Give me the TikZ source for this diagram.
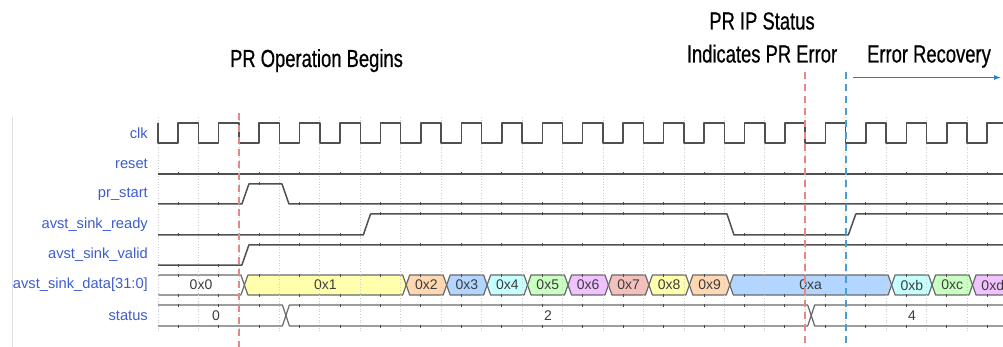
\documentclass[tikz,border=0pt]{standalone}
\usepackage{fontspec}
\setmainfont{Liberation Sans}
\newfontfamily\titlefont[FakeStretch=0.745,FakeBold=0.6]{Liberation Sans}
\usetikzlibrary{arrows.meta}
\definecolor{lblblue}{RGB}{62,92,205}
\definecolor{wave}{RGB}{80,80,80}
\definecolor{busline}{RGB}{105,105,105}
\definecolor{gridc}{RGB}{205,205,205}
\definecolor{redmark}{RGB}{228,135,135}
\definecolor{bluemark}{RGB}{75,155,215}
\definecolor{arrowblue}{RGB}{45,125,205}
\definecolor{valtext}{RGB}{60,60,60}
\definecolor{cyel}{RGB}{255,255,172}
\definecolor{corg}{RGB}{255,216,178}
\definecolor{cblu}{RGB}{178,214,255}
\definecolor{ccyn}{RGB}{198,255,255}
\definecolor{cgrn}{RGB}{202,255,194}
\definecolor{cpur}{RGB}{240,194,255}
\definecolor{cred}{RGB}{244,192,188}
\newcommand\dseg[4]{%
  \fill[#3] ({#1},285) -- ({#1+3.5},275) -- ({#2-3.5},275) -- ({#2},285) -- ({#2-3.5},295) -- ({#1+3.5},295) -- cycle;
  \draw[bus] ({#1},285) -- ({#1+3.5},275) -- ({#2-3.5},275) -- ({#2},285) -- ({#2-3.5},295) -- ({#1+3.5},295) -- cycle;
  \node[val] (#4) at ({(#1+#2)/2},285) {#4};}
\tikzset{
  lbl/.style={anchor=east,inner sep=0pt,text=lblblue,font=\fontsize{14.7}{16}\selectfont},
  val/.style={inner sep=0pt,text=valtext,font=\fontsize{14}{16}\selectfont},
  ttl/.style={anchor=base,inner sep=0pt,font=\titlefont\fontsize{24.7}{28}\selectfont},
  wave/.style={draw=wave,line width=1.5pt,line join=round},
  bus/.style={draw=busline,line width=1.2pt,line join=round},
  gridl/.style={draw=gridc,line width=0.7pt,dotted},
  tickm/.style={draw=black!70,line width=1pt},
  rdash/.style={draw=redmark,line width=1.3pt,dash pattern=on 7pt off 5pt},
  bdash/.style={draw=bluemark,line width=1.3pt,dash pattern=on 7pt off 5pt},
}
\begin{document}
\begin{tikzpicture}[x=1pt,y=-1pt]
\useasboundingbox (0,0) rectangle (1003,347);
\clip (0,0) rectangle (1003,347);
% left border line
\draw[draw=black!12,line width=0.8pt] (12,117) -- (12,347);
% data bus fills and outlines
\fill[white] (158,275) -- (240.9,275) -- (244.4,285) -- (240.9,295) -- (158,295) -- cycle;
\draw[bus] (158,275) -- (240.9,275) -- (244.4,285) -- (240.9,295) -- (158,295);
\node[val] (0x0) at (201,285) {0x0};
\dseg{244.4}{406.2}{cyel}{0x1}
\dseg{406.2}{446.65}{corg}{0x2}
\dseg{446.65}{487.1}{cblu}{0x3}
\dseg{487.1}{527.55}{ccyn}{0x4}
\dseg{527.55}{568}{cgrn}{0x5}
\dseg{568}{608.45}{cpur}{0x6}
\dseg{608.45}{648.9}{cred}{0x7}
\dseg{648.9}{689.35}{cyel}{0x8}
\dseg{689.35}{729.8}{corg}{0x9}
\dseg{729.8}{891.6}{cblu}{0xa}
\dseg{891.6}{932.05}{ccyn}{0xb}
\dseg{932.05}{972.5}{cgrn}{0xc}
\dseg{972.5}{1013}{cpur}{0xd}
% grid
\foreach \k in {0,...,21}{\draw[gridl] ({158+40.45*\k},117) -- ({158+40.45*\k},331);}
% status bus
\draw[bus] (158,305) -- (282.4,305) -- (285.9,315.5) -- (282.4,326) -- (158,326);
\draw[bus] (285.9,315.5) -- (289.4,305) -- (807.7,305) -- (811.2,315.5) -- (807.7,326) -- (289.4,326) -- cycle;
\draw[bus] (811.2,315.5) -- (814.7,305) -- (1010,305);
\draw[bus] (811.2,315.5) -- (814.7,326) -- (1010,326);
\node[val] (s0) at (216,315.5) {0};
\node[val] (s2) at (548,315.5) {2};
\node[val] (s4) at (912,315.5) {4};
% clock
\draw[wave] (158,123) -- (158,143)
  \foreach \k in {0,...,20}{ -- ({178.2+40.45*\k},143) -- ({178.2+40.45*\k},123) -- ({198.45+40.45*\k},123) -- ({198.45+40.45*\k},143)};
% reset
\draw[wave] (158,174) -- (1003,174);
% pr_start
\draw[wave] (158,204) -- (241.9,204) -- (248.9,184) -- (282,184) -- (289,204) -- (1003,204);
% avst_sink_ready
\draw[wave] (158,235) -- (363.3,235) -- (370.5,214) -- (727,214) -- (734,235) -- (848.3,235) -- (855.8,214) -- (1003,214);
% avst_sink_valid
\draw[wave] (158,265) -- (241.9,265) -- (248.9,245) -- (1003,245);
% tick marks at rising edges
\foreach \k in {0,...,20}{
  \pgfmathsetmacro\rx{178.2+40.45*\k}
  \draw[tickm] (\rx,172.5) -- (\rx,175.5);
  \draw[tickm] (\rx,273.5) -- (\rx,276.5);
  \draw[tickm] (\rx,293.5) -- (\rx,296.5);
  \draw[tickm] (\rx,303.5) -- (\rx,306.5);
  \draw[tickm] (\rx,324.5) -- (\rx,327.5);
}
\foreach \k in {0,1,3,4,...,20}{\pgfmathsetmacro\rx{178.2+40.45*\k}\draw[tickm] (\rx,202.5) -- (\rx,205.5);}
\foreach \k in {2}{\pgfmathsetmacro\rx{178.2+40.45*\k}\draw[tickm] (\rx,182.5) -- (\rx,185.5);}
\foreach \k in {0,1,2,3,4,14,15,16}{\pgfmathsetmacro\rx{178.2+40.45*\k}\draw[tickm] (\rx,233.5) -- (\rx,236.5);}
\foreach \k in {5,6,...,13,17,18,19,20}{\pgfmathsetmacro\rx{178.2+40.45*\k}\draw[tickm] (\rx,212.5) -- (\rx,215.5);}
\foreach \k in {0,1}{\pgfmathsetmacro\rx{178.2+40.45*\k}\draw[tickm] (\rx,263.5) -- (\rx,266.5);}
\foreach \k in {2,3,...,20}{\pgfmathsetmacro\rx{178.2+40.45*\k}\draw[tickm] (\rx,243.5) -- (\rx,246.5);}
% signal labels
\node[lbl] (lclk) at (148,133) {clk};
\node[lbl] (lreset) at (148,163.5) {reset};
\node[lbl] (lpr) at (148,194) {pr\_start};
\node[lbl] (lready) at (148,224.5) {avst\_sink\_ready};
\node[lbl] (lvalid) at (148,255) {avst\_sink\_valid};
\node[lbl] (ldata) at (148,285) {avst\_sink\_data[31:0]};
\node[lbl] (lstatus) at (148,315.5) {status};
% markers
\coordinate (m1t) at (239,113); \coordinate (m1b) at (239,347);
\coordinate (m2t) at (805,72);  \coordinate (m2b) at (805,347);
\coordinate (m3t) at (846,72);  \coordinate (m3b) at (846,347);
\draw[rdash] (m1t) -- (m1b);
\draw[rdash] (m2t) -- (m2b);
\draw[bdash] (m3t) -- (m3b);
% titles
\node[ttl] (t1) at (316.5,67) {PR Operation Begins};
\node[ttl] (t2) at (762,29.5) {PR IP Status};
\node[ttl] (t3) at (762,62.5) {Indicates PR Error};
\node[ttl] (t4) at (929,62.5) {Error Recovery};
% error recovery arrow
\coordinate (as) at (853,77.5);
\coordinate (ae) at (1001,77.5);
\draw[draw=arrowblue,line width=1pt,-{Latex[length=7pt,width=5pt]}] (as) -- (ae);
\end{tikzpicture}
\end{document}
